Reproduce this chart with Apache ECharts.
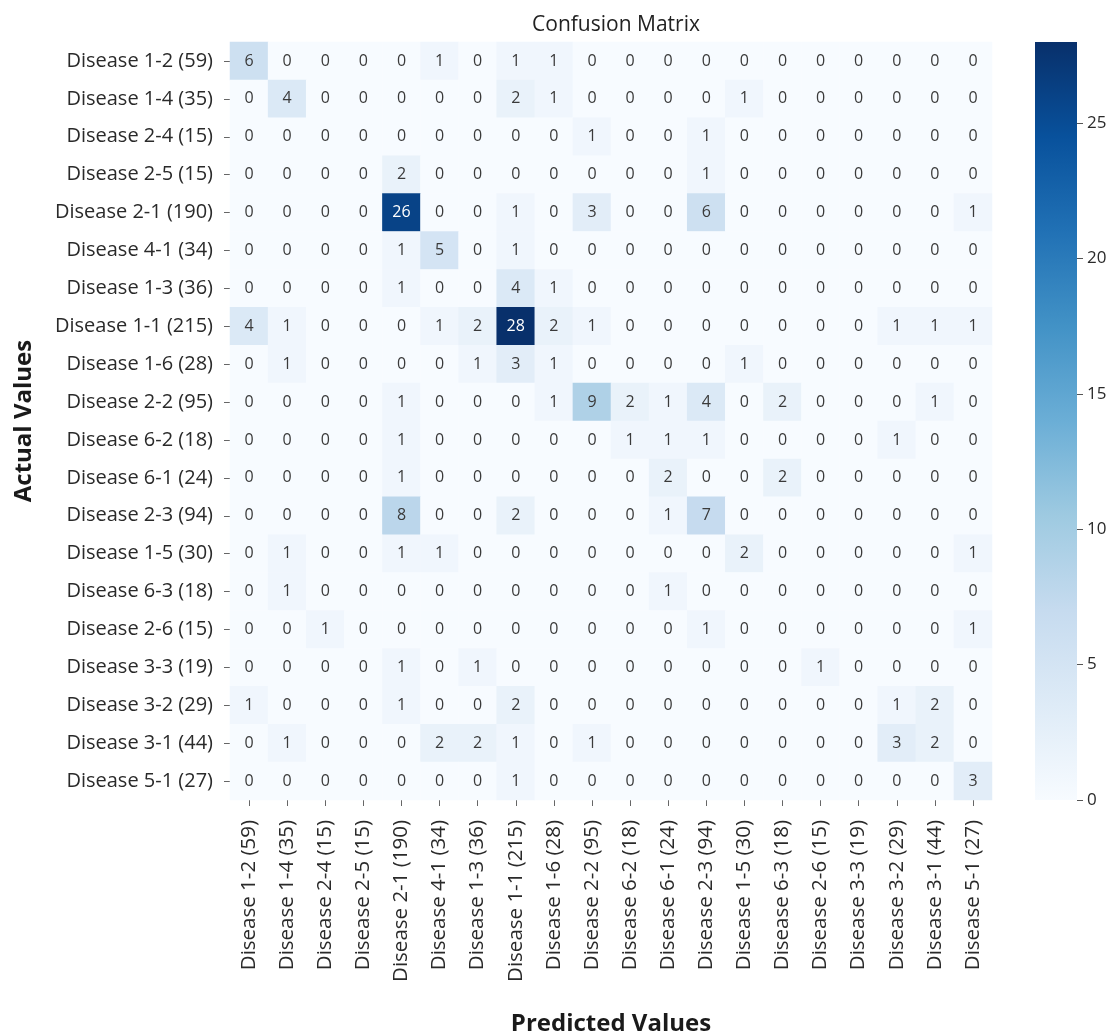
<!DOCTYPE html>
<html>
<head>
<meta charset="utf-8">
<title>Confusion Matrix</title>
<script src="https://cdn.jsdelivr.net/npm/echarts@6/dist/echarts.min.js"></script>
<style>
  html, body { margin: 0; padding: 0; background: #ffffff; }
  #chart { width: 1114px; height: 1031px; }
</style>
</head>
<body>
<div id="chart"></div>
<script>
// Class labels (with sample counts), shared by both axes
const classNames = [
  'Disease 1-2 (59)', 'Disease 1-4 (35)', 'Disease 2-4 (15)', 'Disease 2-5 (15)',
  'Disease 2-1 (190)', 'Disease 4-1 (34)', 'Disease 1-3 (36)', 'Disease 1-1 (215)',
  'Disease 1-6 (28)', 'Disease 2-2 (95)', 'Disease 6-2 (18)', 'Disease 6-1 (24)',
  'Disease 2-3 (94)', 'Disease 1-5 (30)', 'Disease 6-3 (18)', 'Disease 2-6 (15)',
  'Disease 3-3 (19)', 'Disease 3-2 (29)', 'Disease 3-1 (44)', 'Disease 5-1 (27)'
];

// Counts: one row per actual class, one column per predicted class
const counts = [
  [6, 0, 0, 0, 0, 1, 0, 1, 1, 0, 0, 0, 0, 0, 0, 0, 0, 0, 0, 0],
  [0, 4, 0, 0, 0, 0, 0, 2, 1, 0, 0, 0, 0, 1, 0, 0, 0, 0, 0, 0],
  [0, 0, 0, 0, 0, 0, 0, 0, 0, 1, 0, 0, 1, 0, 0, 0, 0, 0, 0, 0],
  [0, 0, 0, 0, 2, 0, 0, 0, 0, 0, 0, 0, 1, 0, 0, 0, 0, 0, 0, 0],
  [0, 0, 0, 0, 26, 0, 0, 1, 0, 3, 0, 0, 6, 0, 0, 0, 0, 0, 0, 1],
  [0, 0, 0, 0, 1, 5, 0, 1, 0, 0, 0, 0, 0, 0, 0, 0, 0, 0, 0, 0],
  [0, 0, 0, 0, 1, 0, 0, 4, 1, 0, 0, 0, 0, 0, 0, 0, 0, 0, 0, 0],
  [4, 1, 0, 0, 0, 1, 2, 28, 2, 1, 0, 0, 0, 0, 0, 0, 0, 1, 1, 1],
  [0, 1, 0, 0, 0, 0, 1, 3, 1, 0, 0, 0, 0, 1, 0, 0, 0, 0, 0, 0],
  [0, 0, 0, 0, 1, 0, 0, 0, 1, 9, 2, 1, 4, 0, 2, 0, 0, 0, 1, 0],
  [0, 0, 0, 0, 1, 0, 0, 0, 0, 0, 1, 1, 1, 0, 0, 0, 0, 1, 0, 0],
  [0, 0, 0, 0, 1, 0, 0, 0, 0, 0, 0, 2, 0, 0, 2, 0, 0, 0, 0, 0],
  [0, 0, 0, 0, 8, 0, 0, 2, 0, 0, 0, 1, 7, 0, 0, 0, 0, 0, 0, 0],
  [0, 1, 0, 0, 1, 1, 0, 0, 0, 0, 0, 0, 0, 2, 0, 0, 0, 0, 0, 1],
  [0, 1, 0, 0, 0, 0, 0, 0, 0, 0, 0, 1, 0, 0, 0, 0, 0, 0, 0, 0],
  [0, 0, 1, 0, 0, 0, 0, 0, 0, 0, 0, 0, 1, 0, 0, 0, 0, 0, 0, 1],
  [0, 0, 0, 0, 1, 0, 1, 0, 0, 0, 0, 0, 0, 0, 0, 1, 0, 0, 0, 0],
  [1, 0, 0, 0, 1, 0, 0, 2, 0, 0, 0, 0, 0, 0, 0, 0, 0, 1, 2, 0],
  [0, 1, 0, 0, 0, 2, 2, 1, 0, 1, 0, 0, 0, 0, 0, 0, 0, 3, 2, 0],
  [0, 0, 0, 0, 0, 0, 0, 1, 0, 0, 0, 0, 0, 0, 0, 0, 0, 0, 0, 3]
];

// Colour bar range and its tick labels
const colorMin = 0;
const colorMax = 28;
const colorbarTicks = [0, 5, 10, 15, 20, 25];

// Sequential "Blues" palette
const blues = ['#f7fbff', '#deebf7', '#c6dbef', '#9ecae1', '#6baed6',
               '#4292c6', '#2171b5', '#08519c', '#08306b'];

const FONT = '"Open Sans", "Noto Sans", sans-serif';

// Heatmap cells: [predictedIndex, actualIndex, count]
const cells = [];
counts.forEach((row, r) => {
  row.forEach((v, c) => {
    cells.push({
      value: [c, r, v],
      label: { color: v > 14 ? '#ffffff' : '#3a3a3a' }
    });
  });
});

// Vertical gradient for the colour bar (bottom = min, top = max)
const barGradient = new echarts.graphic.LinearGradient(0, 1, 0, 0,
  blues.map((c, i) => ({ offset: i / (blues.length - 1), color: c })));

const chart = echarts.init(document.getElementById('chart'), null, { renderer: 'canvas' });

const gridLeft = 230, gridTop = 42, gridWidth = 762, gridHeight = 758;
const barLeft = 1035, barWidth = 42;

chart.setOption({
  backgroundColor: '#ffffff',
  animation: false,
  textStyle: { fontFamily: FONT },
  title: {
    text: 'Confusion Matrix',
    left: gridLeft + gridWidth / 2,
    textAlign: 'center',
    top: 10,
    textStyle: { fontFamily: FONT, fontSize: 21, fontWeight: 'normal', color: '#222222' }
  },
  grid: [
    { left: gridLeft, top: gridTop, width: gridWidth, height: gridHeight,
      containLabel: false, outerBoundsMode: 'none' },
    { left: barLeft, top: gridTop, width: barWidth, height: gridHeight,
      containLabel: false, outerBoundsMode: 'none' }
  ],
  xAxis: [
    {
      type: 'category',
      gridIndex: 0,
      data: classNames,
      position: 'bottom',
      name: 'Predicted Values',
      nameLocation: 'middle',
      nameGap: 212,
      nameTextStyle: { fontFamily: FONT, fontSize: 24, fontWeight: 'bold', color: '#1a1a1a' },
      axisLine: { show: false },
      axisTick: { show: true, alignWithLabel: true, length: 6, lineStyle: { color: '#666666' } },
      axisLabel: { rotate: 90, margin: 20, fontSize: 20.5, color: '#2a2a2a', fontFamily: FONT, interval: 0 },
      splitLine: { show: false },
      splitArea: { show: false }
    },
    { type: 'category', gridIndex: 1, show: false, data: ['scale'] }
  ],
  yAxis: [
    {
      type: 'category',
      gridIndex: 0,
      data: classNames,
      inverse: true,
      name: 'Actual Values',
      nameLocation: 'middle',
      nameGap: 194,
      nameRotate: 90,
      nameTextStyle: { fontFamily: FONT, fontSize: 24, fontWeight: 'bold', color: '#1a1a1a' },
      axisLine: { show: false },
      axisTick: { show: true, alignWithLabel: true, length: 6, lineStyle: { color: '#666666' } },
      axisLabel: { margin: 17, fontSize: 20, color: '#2a2a2a', fontFamily: FONT, interval: 0 },
      splitLine: { show: false },
      splitArea: { show: false }
    },
    {
      // Scale beside the colour bar
      type: 'value',
      gridIndex: 1,
      position: 'right',
      min: colorMin,
      max: colorMax,
      axisLine: { show: false },
      axisTick: { show: true, inside: false, length: 6, customValues: colorbarTicks,
                  lineStyle: { color: '#555555', width: 1 } },
      axisLabel: { show: true, margin: 10, fontSize: 17, color: '#2a2a2a', fontFamily: FONT,
                   customValues: colorbarTicks },
      splitLine: { show: false }
    }
  ],
  visualMap: {
    type: 'continuous',
    show: false,
    min: colorMin,
    max: colorMax,
    seriesIndex: 0,
    inRange: { color: blues }
  },
  series: [
    {
      type: 'heatmap',
      xAxisIndex: 0,
      yAxisIndex: 0,
      data: cells,
      label: {
        show: true,
        fontSize: 16,
        fontFamily: FONT,
        formatter: p => String(p.value[2])
      },
      itemStyle: { borderWidth: 0 },
      emphasis: { disabled: true }
    },
    {
      // Colour bar spanning the full value range
      type: 'bar',
      xAxisIndex: 1,
      yAxisIndex: 1,
      data: [colorMax],
      barWidth: '100%',
      silent: true,
      itemStyle: { color: barGradient },
      emphasis: { disabled: true }
    }
  ]
});
</script>
</body>
</html>
